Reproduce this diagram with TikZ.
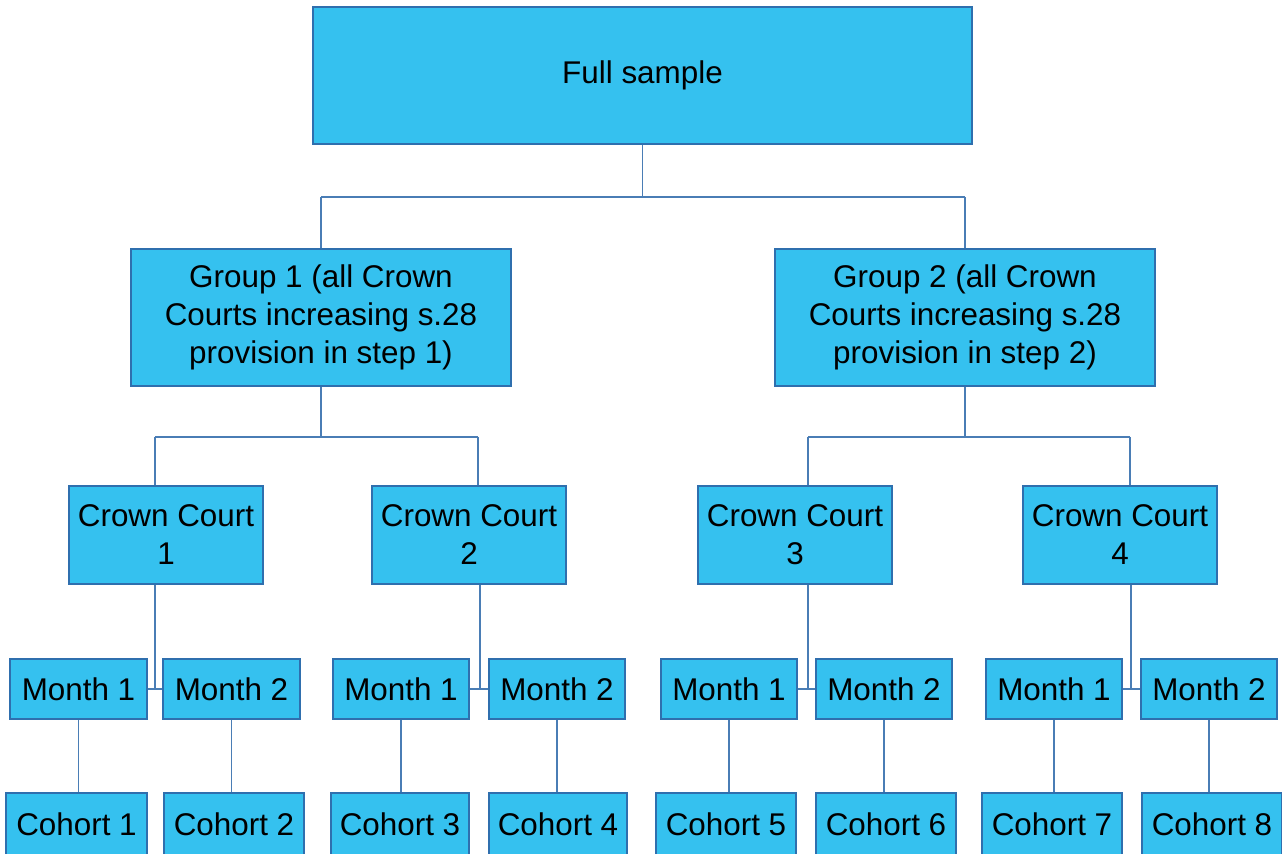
\documentclass[tikz,border=0pt]{standalone}
\usepackage{fontspec}
\setmainfont{Liberation Sans}
\usetikzlibrary{calc}
\definecolor{boxfill}{HTML}{35C1EF}
\definecolor{boxline}{HTML}{2F6FAE}
\definecolor{linkline}{HTML}{4A7DB5}

\begin{document}
\begin{tikzpicture}[x=0.5pt, y=-0.5pt,
    box/.style={draw=boxline, line width=1pt, fill=boxfill, inner sep=0pt,
      align=center, font=\fontsize{15.7}{19}\selectfont},
    link/.style={draw=linkline, line width=0.7pt}
  ]
  % Page size, one unit is one pixel of the original chart
  \useasboundingbox (0,0) rectangle (1282,854);

  % Top box and the two groups
  \node[box, minimum width=329.5pt, minimum height=68.5pt] (full) at (642.5,75.5)
    {Full sample};
  \foreach \g/\x/\n in {g1/321/1, g2/965/2} {
    \node[box, minimum width=190pt, minimum height=68.5pt] (\g) at (\x,317.5)
      {Group \n\ (all Crown\\Courts increasing s.28\\provision in step \n)};
  }

  % Crown Courts
  \foreach \i/\x in {1/166, 2/469, 3/795, 4/1120} {
    \node[box, minimum width=97pt, minimum height=49pt] (cc\i) at (\x,535)
      {Crown Court\\\i};
  }

  % Months, two for each court
  \foreach \i/\x/\w/\n in {1/78.5/137/1, 2/231.5/137/2, 3/401/136/1, 4/557/136/2,
      5/729/136/1, 6/884/136/2, 7/1054/136/1, 8/1209/136/2} {
    \node[box, minimum width=\w*0.5pt, minimum height=30pt] (m\i) at (\x,689)
      {Month \n};
  }

  % Cohorts (cut off by the bottom of the page)
  \foreach \i/\x/\w in {1/76.5/141, 2/234/140, 3/400/138, 4/558/138,
      5/726/140, 6/886/140, 7/1052/140, 8/1212/140} {
    \node[box, minimum width=\w*0.5pt, minimum height=31.5pt] (c\i) at (\x,824.5)
      {Cohort \i};
  }

  % Full sample to the groups
  \coordinate (fullmid) at ($(full.south)+(0,52)$);
  \draw[link] (full.south) -- (fullmid);
  \draw[link] (fullmid -| g1.north) -- (fullmid -| g2.north);
  \draw[link] (fullmid -| g1.north) -- (g1.north);
  \draw[link] (fullmid -| g2.north) -- (g2.north);

  % Groups to the courts; the drop lines sit a little off centre
  \foreach \g/\ca/\cb/\xa/\xb in {g1/cc1/cc2/155/478, g2/cc3/cc4/808/1130} {
    \coordinate (\g mid) at ($(\g.south)+(0,50)$);
    \draw[link] (\g.south) -- (\g mid);
    \draw[link] (\g mid -| \xa,0) -- (\g mid -| \xb,0);
    \draw[link] (\g mid -| \xa,0) -- (\ca.north -| \xa,0);
    \draw[link] (\g mid -| \xb,0) -- (\cb.north -| \xb,0);
  }

  % Courts to their months
  \foreach \c/\ma/\mb/\xl in {1/1/2/155, 2/3/4/480, 3/5/6/808, 4/7/8/1131} {
    \draw[link] (cc\c.south -| \xl,0) -- (m\ma.east -| \xl,0);
    \draw[link] (m\ma.east) -- (m\mb.west);
  }

  % Months to cohorts
  \foreach \i in {1,...,8} {
    \draw[link] (m\i.south) -- (m\i.south |- c\i.north);
  }
\end{tikzpicture}
\end{document}
